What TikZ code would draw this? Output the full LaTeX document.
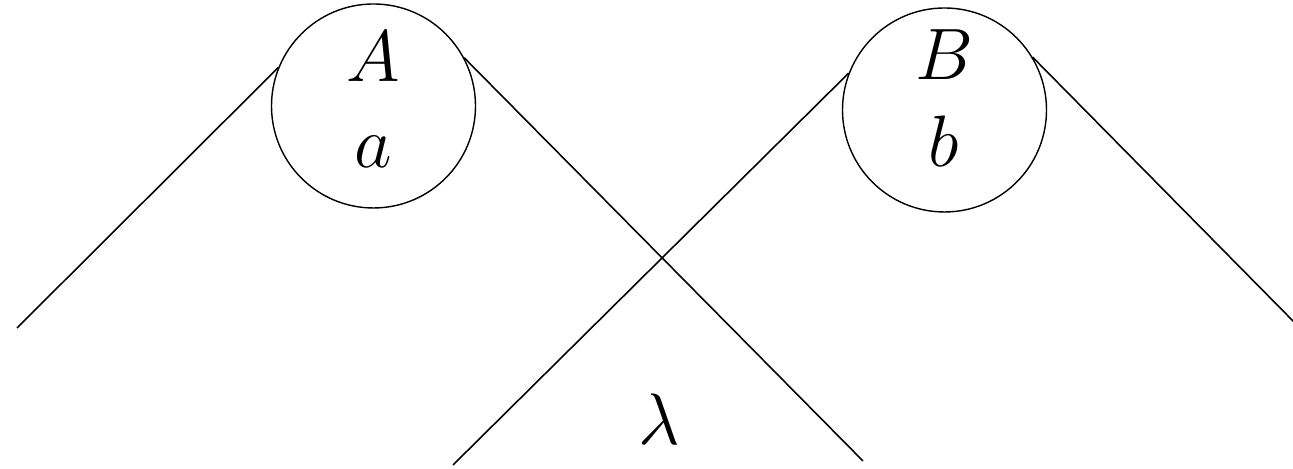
\documentclass[tikz,border=0pt]{standalone}
\usepackage{amsmath,amssymb}
\usepackage{tikz}

\begin{document}
\begin{tikzpicture}[
  blob/.style={draw=black, circle, minimum size=2.04cm, inner sep=0pt},
  sym/.style={anchor=base, inner sep=0pt, font=\fontsize{19.5}{23}\selectfont},
  leg/.style={draw=black, line width=0.45pt}
]
\useasboundingbox (0,0) rectangle (12.93,4.69);
\node[blob] (A) at (3.735,3.63) {};
\node[blob] (B) at (9.445,3.59) {};
\node[sym] (capA) at (3.73,3.87) {$A$};
\node[sym] (smallA) at (3.73,3.01) {$a$};
\node[sym] (capB) at (9.44,3.89) {$B$};
\node[sym] (smallB) at (9.44,3.02) {$b$};
\node[sym, font=\fontsize{21.5}{25}\selectfont] (lam) at (6.59,0.24) {$\lambda$};
\coordinate (aL) at (0.17,1.41);
\coordinate (aR) at (8.63,0.08);
\coordinate (bL) at (4.53,0.04);
\coordinate (bR) at (12.94,1.47);
\draw[leg] (A.158) -- (aL);
\draw[leg] (A.28) -- (aR);
\draw[leg] (B.159) -- (bL);
\draw[leg] (B.31) -- (bR);
\end{tikzpicture}
\end{document}
